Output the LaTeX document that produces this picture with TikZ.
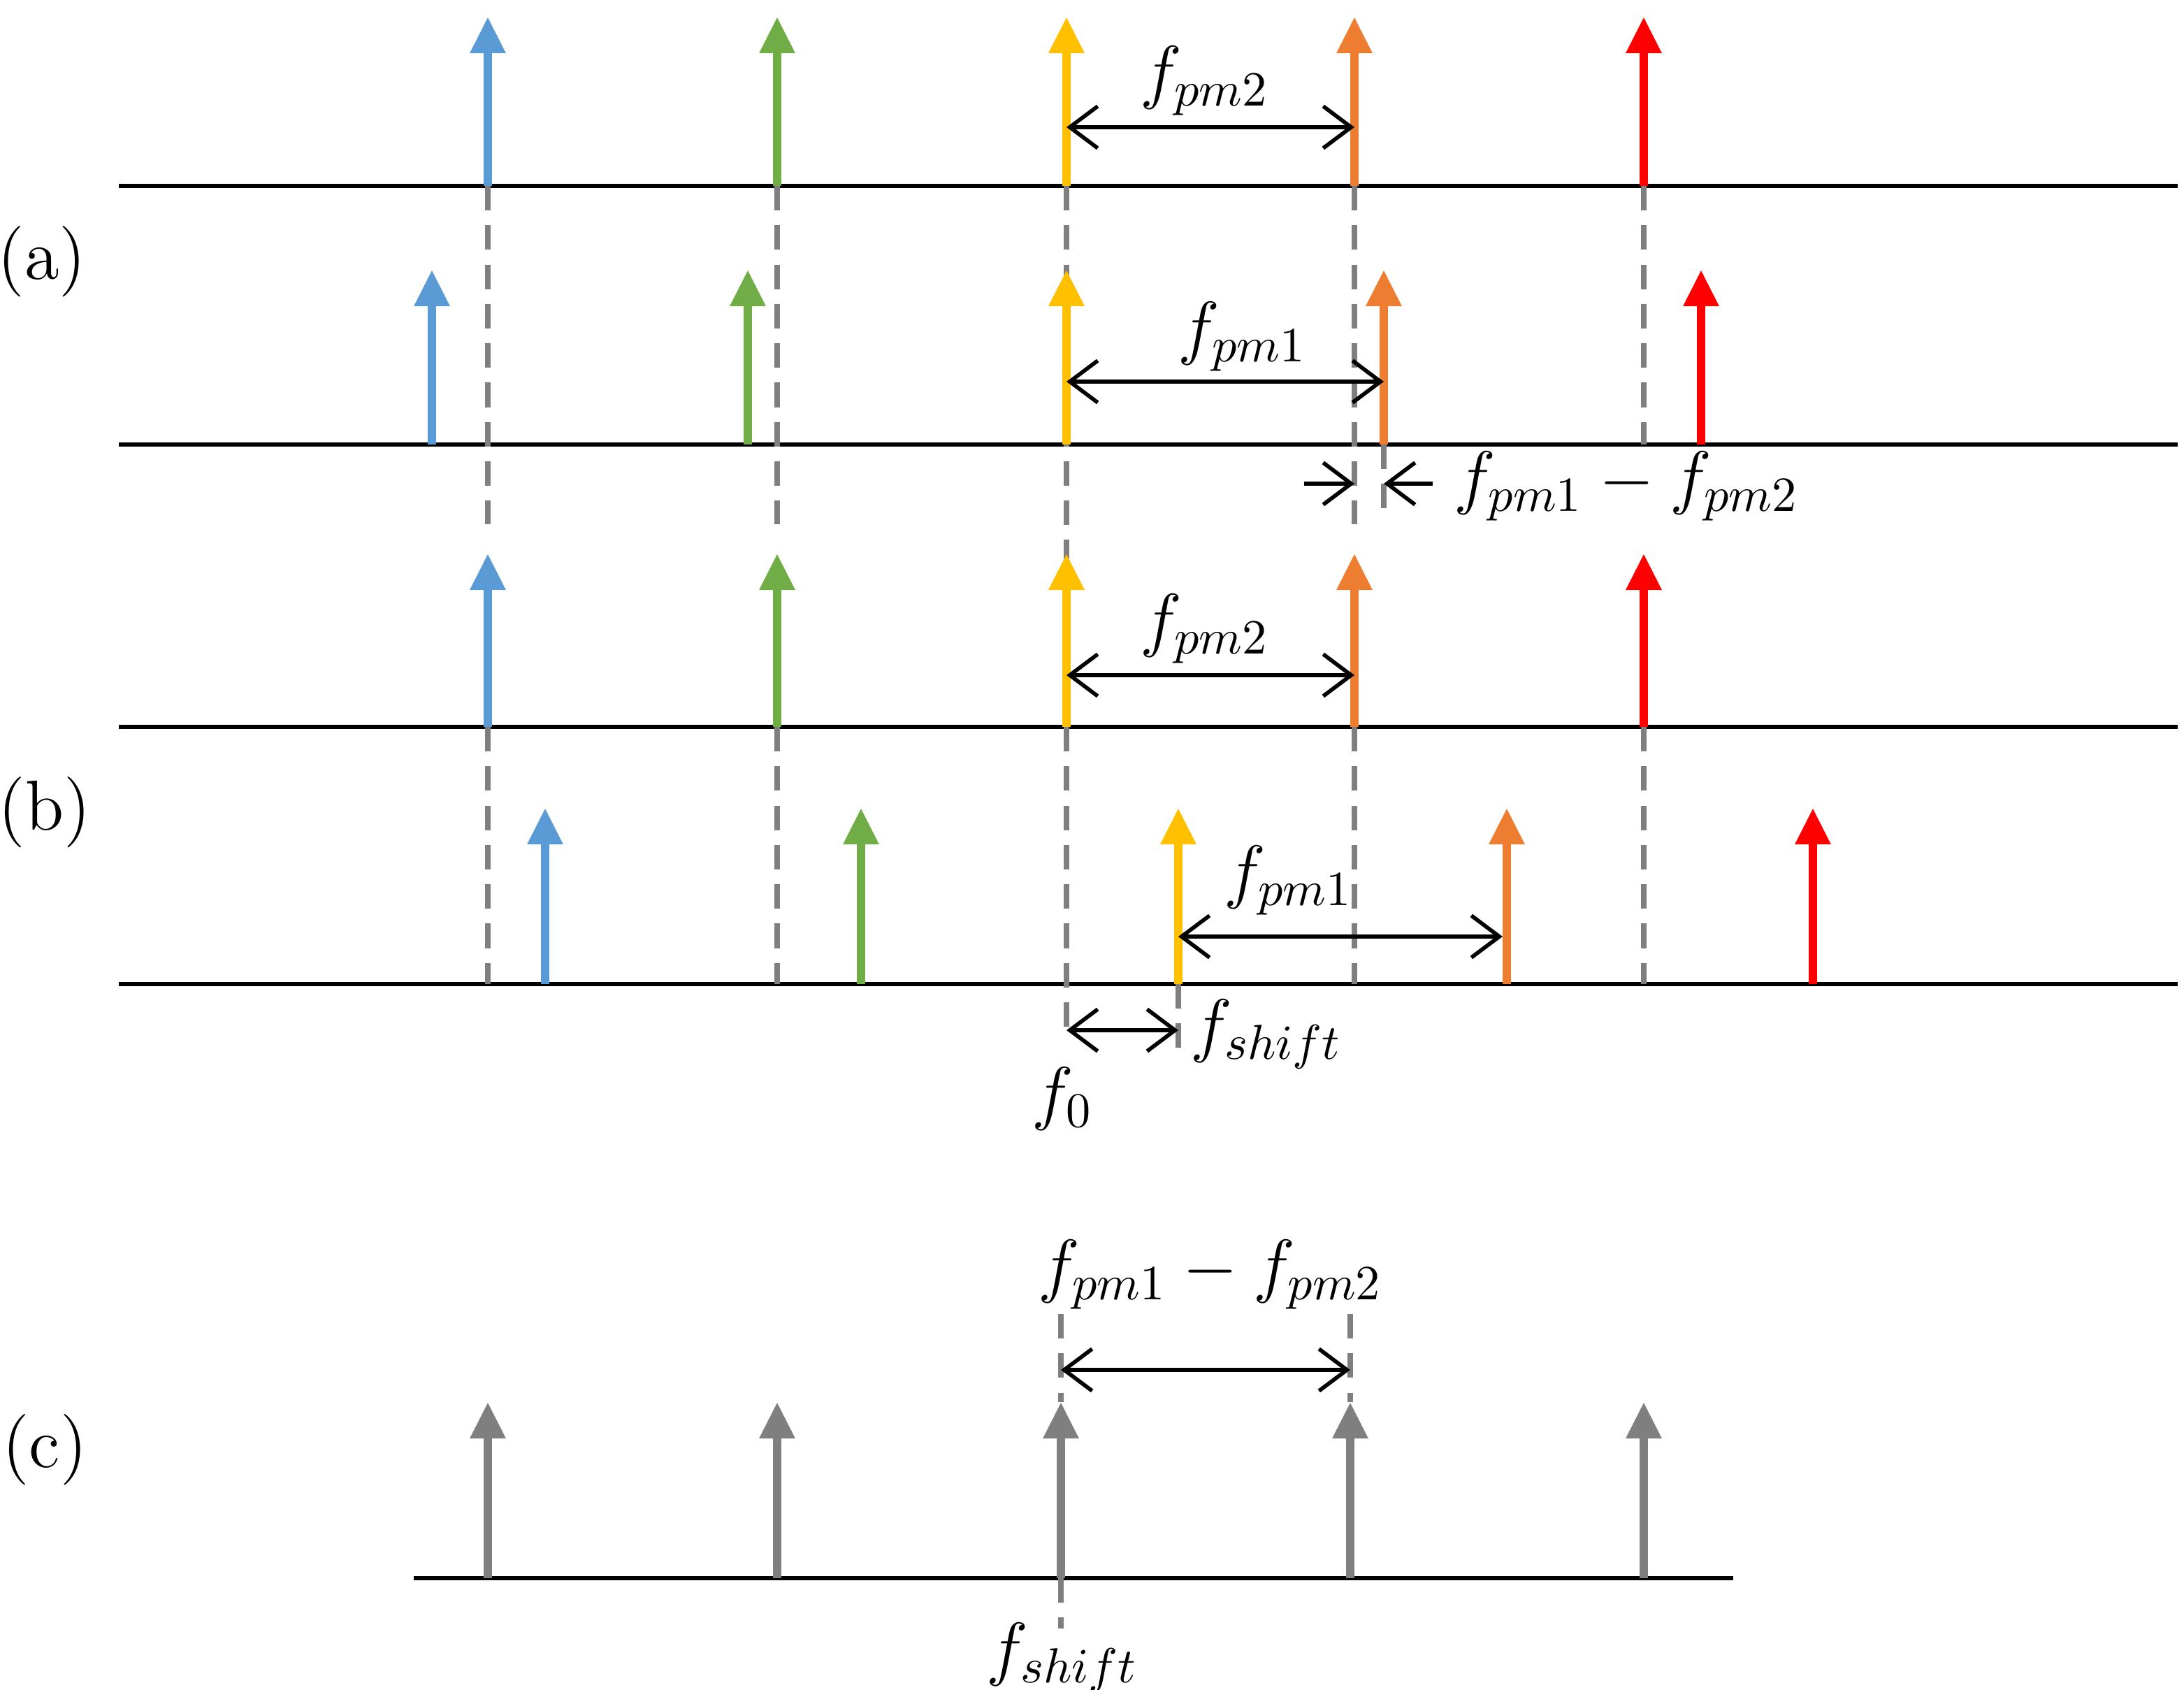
\documentclass[tikz,border=0pt]{standalone}
\usetikzlibrary{arrows.meta}
\begin{document}
\definecolor{cb}{HTML}{5B9BD5}\definecolor{cg}{HTML}{70AD47}\definecolor{cy}{HTML}{FFC000}
\definecolor{co}{HTML}{ED7D31}\definecolor{cr}{HTML}{FF0000}\definecolor{cgr}{HTML}{7F7F7F}
\begin{tikzpicture}[x=0.01cm,y=-0.01cm,
  spike/.style={line width=0.06cm,-{Triangle[width=0.24cm,length=0.26cm]}},
  base/.style={line width=0.8pt},
  guide/.style={cgr,line width=1.2pt,dash pattern=on 5pt off 3pt},
  dim/.style={line width=0.8pt,{Straight Barb[length=0.2cm,width=0.3cm]}-{Straight Barb[length=0.2cm,width=0.3cm]}},
  onearr/.style={line width=0.8pt,-{Straight Barb[length=0.2cm,width=0.3cm]}},
  lbl/.style={font=\Large}]
\useasboundingbox (0,0) rectangle (1562.5,1209);
% baselines
\foreach \y/\n in {133/b1,318/b2,520/b3,704/b4}{\draw[base] (85,\y) coordinate (\n L) -- (1558,\y) coordinate (\n R);}
\draw[base] (296,1129) coordinate (b5L) -- (1240,1129) coordinate (b5R);
% dashed guides
\foreach \x in {349,556,969}{\draw[guide] (\x,133) -- (\x,375); \draw[guide] (\x,520) -- (\x,704);}
\draw[guide] (763,133) -- (763,400); \draw[guide] (763,520) -- (763,745);
\draw[guide] (1176,133) -- (1176,318); \draw[guide] (1176,520) -- (1176,704);
\draw[guide] (990,318) -- (990,370);
\draw[guide] (843,704) -- (843,752);
\draw[guide] (759,940) -- (759,1003); \draw[guide] (966,940) -- (966,1003);
\draw[guide] (759,1129) -- (759,1165);
% spikes
\foreach \x/\c in {349/cb,556/cg,763/cy,969/co,1176/cr}{
  \draw[spike,\c] (\x,133) -- (\x,12);
  \draw[spike,\c] (\x,520) -- (\x,396);}
\foreach \x/\c in {309/cb,535/cg,763/cy,990/co,1217/cr}{\draw[spike,\c] (\x,318) -- (\x,193);}
\foreach \x/\c in {390/cb,616/cg,843/cy,1078/co,1297/cr}{\draw[spike,\c] (\x,704) -- (\x,578);}
\foreach \x in {349,556,759,966,1176}{\draw[spike,cgr] (\x,1129) -- (\x,1003);}
% dimensions
\coordinate (d1a) at (763,91); \coordinate (d1b) at (969,91);
\draw[dim] (d1a) -- (d1b);
\node[lbl] (l1) at (862,58) {$f_{pm2}$};
\coordinate (d2a) at (763,273); \coordinate (d2b) at (990,273);
\draw[dim] (d2a) -- (d2b);
\node[lbl] (l2) at (889,241) {$f_{pm1}$};
\coordinate (e1) at (933,346); \coordinate (e2) at (969,346);
\coordinate (e3) at (1025,346); \coordinate (e4) at (990,346);
\draw[onearr] (e1) -- (e2); \draw[onearr] (e3) -- (e4);
\node[lbl,anchor=west] (l3) at (1028,348) {$f_{pm1}-f_{pm2}$};
\coordinate (d3a) at (763,483); \coordinate (d3b) at (969,483);
\draw[dim] (d3a) -- (d3b);
\node[lbl] (l4) at (862,450) {$f_{pm2}$};
\coordinate (d4a) at (843,670); \coordinate (d4b) at (1075,670);
\draw[dim] (d4a) -- (d4b);
\node[lbl] (l5) at (922,630) {$f_{pm1}$};
\coordinate (d5a) at (763,737); \coordinate (d5b) at (843,737);
\draw[dim] (d5a) -- (d5b);
\node[lbl] (l6) at (906,740) {$f_{shift}$};
\node[lbl] (l7) at (760,786) {$f_0$};
\coordinate (d6a) at (759,980); \coordinate (d6b) at (966,980);
\draw[dim] (d6a) -- (d6b);
\node[lbl] (l8) at (866,912) {$f_{pm1}-f_{pm2}$};
\node[lbl] (l9) at (760,1186) {$f_{shift}$};
\node[lbl] (la) at (30,187) {(a)};
\node[lbl] (lb) at (32,581) {(b)};
\node[lbl] (lc) at (32,1037) {(c)};
\end{tikzpicture}
\end{document}
